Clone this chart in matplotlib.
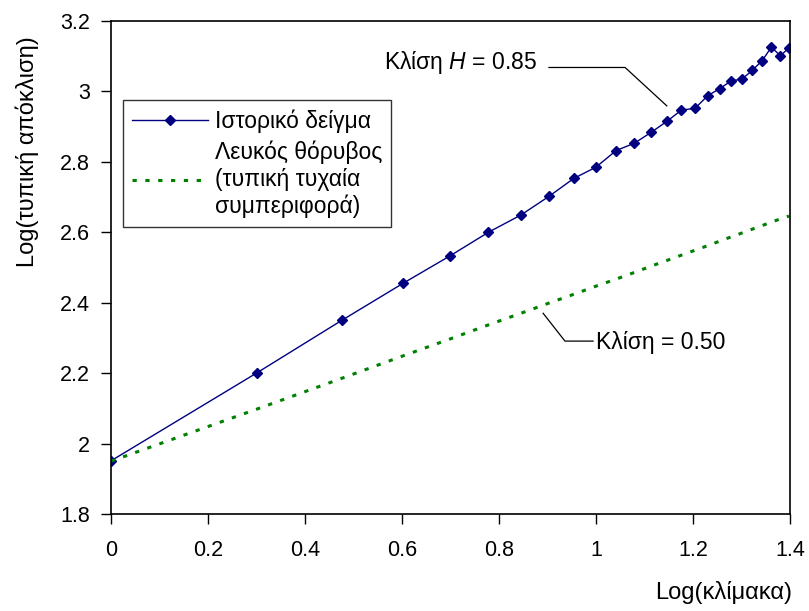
import numpy as np
import matplotlib.pyplot as plt

plt.rcParams['font.family'] = ['Liberation Sans', 'DejaVu Sans']
plt.rcParams['mathtext.fontset'] = 'custom'
plt.rcParams['mathtext.rm'] = 'Liberation Sans'
plt.rcParams['mathtext.it'] = 'Liberation Sans:italic'

# log10 of scale n = 1..25
log_scale = np.log10(np.arange(1, 26))

sample_std = [1.951, 2.201, 2.351, 2.455, 2.533, 2.600, 2.649, 2.702,
              2.753, 2.785, 2.832, 2.853, 2.884, 2.915, 2.947, 2.952,
              2.988, 3.008, 3.030, 3.035, 3.060, 3.087, 3.126, 3.101, 3.124]
noise_std = [1.950, 2.098, 2.186, 2.249, 2.297, 2.337, 2.370, 2.399,
             2.424, 2.447, 2.467, 2.486, 2.504, 2.520, 2.535, 2.549,
             2.562, 2.575, 2.587, 2.598, 2.609, 2.619, 2.629, 2.638, 2.646]

sample_label = 'Ιστορικό δείγμα'
noise_label = 'Λευκός θόρυβος\n(τυπική τυχαία\nσυμπεριφορά)'
xticks = [0, 0.2, 0.4, 0.6, 0.8, 1.0, 1.2, 1.4]
xtick_labels = ['0', '0.2', '0.4', '0.6', '0.8', '1', '1.2', '1.4']
yticks = [1.8, 2.0, 2.2, 2.4, 2.6, 2.8, 3.0, 3.2]
ytick_labels = ['1.8', '2', '2.2', '2.4', '2.6', '2.8', '3', '3.2']

fig = plt.figure(figsize=(8.09, 6.11), dpi=100)
ax = fig.add_axes([111 / 809, 97 / 611, 679 / 809, 493 / 611])

ax.plot(log_scale, sample_std, color='#000080', lw=1.0, marker='D',
        markersize=5, label=sample_label)
ax.plot(log_scale, noise_std, color='#008000', lw=2.2, ls=(0, (1.4, 2.8)),
        label=noise_label)

ax.set_xlim(0, 1.4)
ax.set_ylim(1.8, 3.2)
ax.set_xticks(xticks, xtick_labels)
ax.set_yticks(yticks, ytick_labels)
ax.tick_params(direction='out', length=7, width=1, labelsize=15.5)
ax.tick_params(axis='x', pad=12)
ax.tick_params(axis='y', pad=8)
for sp in ax.spines.values():
    sp.set_linewidth(1.2)

ax.set_xlabel('Log(κλίμακα)', fontsize=17, ha='right', va='center')
ax.xaxis.set_label_coords(1.003, -0.160)
ax.set_ylabel('Log(τυπική απόκλιση)', fontsize=17, va='center')
ax.yaxis.set_label_coords(-0.124, 0.735)

leg = ax.legend(loc='upper left', bbox_to_anchor=(0.018, 0.840), fontsize=16.5,
                frameon=True, fancybox=False, edgecolor='black',
                handlelength=3.3, borderpad=0.4, labelspacing=0.35,
                handletextpad=0.3, borderaxespad=0)
leg.get_frame().set_linewidth(1.0)

# leader line annotations
ax.plot([0.903, 1.060, 1.146], [3.068, 3.068, 2.959], color='black', lw=0.9)
ax.text(0.878, 3.081, 'Κλίση $\\mathit{H}$ = 0.85', fontsize=16.5, ha='right', va='center')
ax.plot([0.891, 0.936, 0.994], [2.370, 2.291, 2.291], color='black', lw=0.9)
ax.text(1.001, 2.288, 'Κλίση = 0.50', fontsize=16.5, ha='left', va='center')

fig.savefig('out.png', dpi=100)
